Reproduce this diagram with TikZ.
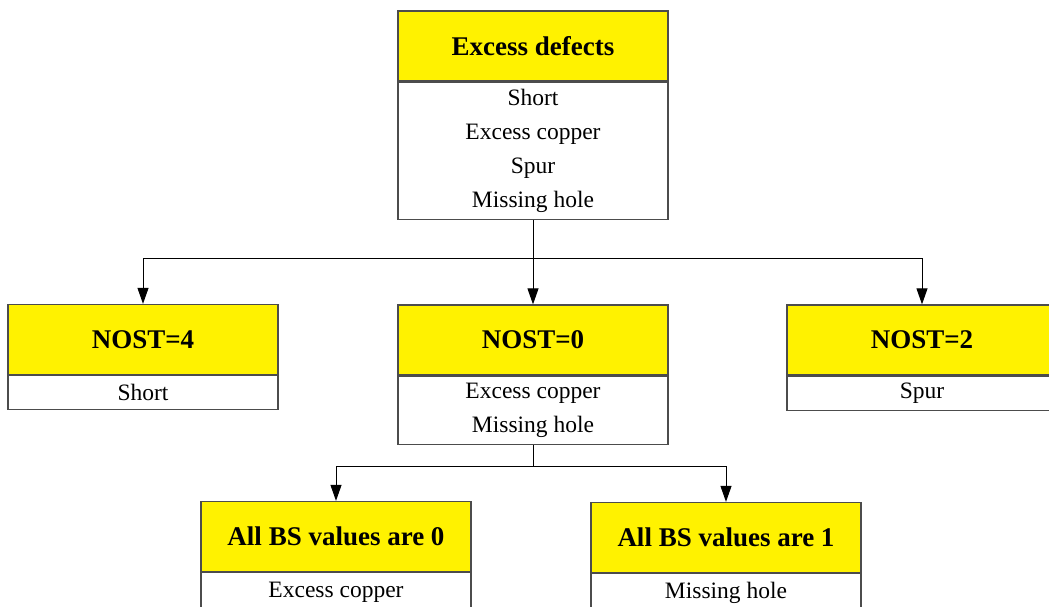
\documentclass[tikz,border=0pt]{standalone}
\usepackage{fontspec}
\setmainfont{Liberation Serif}
\usepackage{tikz}
\usetikzlibrary{positioning, arrows.meta}

\tikzset{
    headbox/.style={draw=black!70, line width=1.3pt, fill=yellow, minimum width=270pt,
        minimum height=70pt, inner sep=0pt, font=\fontsize{27}{30}\selectfont\bfseries},
    bodybox/.style={draw=black!70, line width=1.3pt, fill=white, minimum width=270pt,
        inner sep=0pt, align=center, font=\fontsize{23.5}{34}\selectfont},
    arr/.style={-{Triangle[width=11pt,length=16pt]}, line width=1pt}
}

\begin{document}
\begin{tikzpicture}[x=1pt, y=-1pt]
        \useasboundingbox (0,0) rectangle (1049,606);
        \clip (0,0) rectangle (1049,606);

        % top box
        \node (excess) [headbox] at (533,46) {Excess defects};
        \node (excessbody) [bodybox, minimum height=137pt, below=0pt of excess]
        {Short\\Excess copper\\Spur\\Missing hole};

        % second row
        \node (nostfour) [headbox] at (143,339.5) {NOST=4};
        \node (nostfourbody) [bodybox, minimum height=34pt, below=0pt of nostfour] {Short};

        \node (nostzero) [headbox] at (533,340) {NOST=0};
        \node (nostzerobody) [bodybox, minimum height=68pt, below=0pt of nostzero]
        {Excess copper\\Missing hole};

        \node (nosttwo) [headbox] at (922,340) {NOST=2};
        \node (nosttwobody) [bodybox, minimum height=34pt, below=0pt of nosttwo] {Spur};

        % third row
        \node (bszero) [headbox] at (336,536.5) {All BS values are 0};
        \node (bszerobody) [bodybox, minimum height=38pt, below=0pt of bszero] {Excess copper};

        \node (bsone) [headbox] at (726,537.5) {All BS values are 1};
        \node (bsonebody) [bodybox, minimum height=38pt, below=0pt of bsone] {Missing hole};

        % connectors
        \coordinate (splitone) at (533,258);
        \coordinate (splittwo) at (533,466);

        \draw [line width=1pt] (excessbody.south) -- (splitone);
        \draw [arr] (splitone) -| (nostfour.north);
        \draw [arr] (splitone) -- (nostzero.north);
        \draw [arr] (splitone) -| (nosttwo.north);

        \draw [line width=1pt] (nostzerobody.south) -- (splittwo);
        \draw [arr] (splittwo) -| (bszero.north);
        \draw [arr] (splittwo) -| (bsone.north);
    \end{tikzpicture}
\end{document}
